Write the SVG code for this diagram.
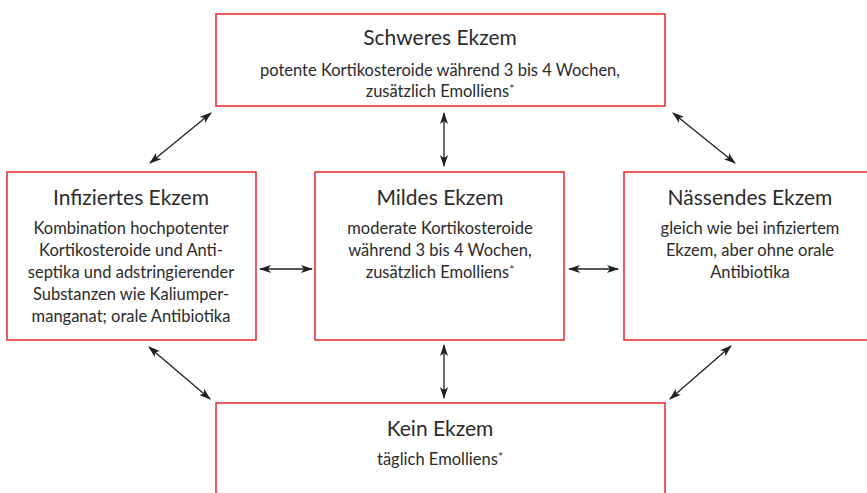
<svg xmlns="http://www.w3.org/2000/svg" width="867" height="493" viewBox="0 0 867 493">
<defs>
<marker id="ah" viewBox="0 0 12 8" refX="11" refY="4" markerWidth="12" markerHeight="8" markerUnits="userSpaceOnUse" orient="auto-start-reverse">
<path d="M0,0 L12,4 L0,8 L3,4 Z" fill="#231f20"/>
</marker>
</defs>
<style>
.box{fill:#fff;stroke:#e8242c;stroke-width:1.5}
.t{font-family:Lato,"Open Sans",sans-serif;font-size:21px;fill:#2b2b2b;text-anchor:middle}
.b{font-family:Lato,"Open Sans",sans-serif;font-size:16.5px;fill:#2b2b2b;text-anchor:middle}
.s{font-size:12px}
.c{stroke:#231f20;stroke-width:1.3;fill:none;marker-start:url(#ah);marker-end:url(#ah)}
</style>
<rect width="867" height="493" fill="#fff"/>
<g id="schwer">
<rect class="box" x="216" y="14" width="449" height="92"/>
<text class="t" x="440" y="45">Schweres Ekzem</text>
<text class="b" x="440" y="76">potente Kortikosteroide während 3 bis 4 Wochen,</text>
<text class="b" x="440" y="97">zusätzlich Emolliens<tspan class="s" dy="-4">*</tspan></text>
</g>
<g id="infiziert">
<rect class="box" x="7" y="172" width="249" height="168"/>
<text class="t" x="131" y="205">Infiziertes Ekzem</text>
<text class="b" x="131" y="234">Kombination hochpotenter</text>
<text class="b" x="131" y="256">Kortikosteroide und Anti-</text>
<text class="b" x="131" y="278">septika und adstringierender</text>
<text class="b" x="131" y="300">Substanzen wie Kaliumper-</text>
<text class="b" x="131" y="322">manganat; orale Antibiotika</text>
</g>
<g id="mild">
<rect class="box" x="315" y="172" width="249" height="168"/>
<text class="t" x="440" y="205">Mildes Ekzem</text>
<text class="b" x="440" y="234">moderate Kortikosteroide</text>
<text class="b" x="440" y="256">während 3 bis 4 Wochen,</text>
<text class="b" x="440" y="278">zusätzlich Emolliens<tspan class="s" dy="-4">*</tspan></text>
</g>
<g id="naessend">
<rect class="box" x="624" y="172" width="252" height="168"/>
<text class="t" x="750" y="205">Nässendes Ekzem</text>
<text class="b" x="750" y="234">gleich wie bei infiziertem</text>
<text class="b" x="750" y="256">Ekzem, aber ohne orale</text>
<text class="b" x="750" y="278">Antibiotika</text>
</g>
<g id="kein">
<rect class="box" x="216" y="403" width="449" height="100"/>
<text class="t" x="440" y="436">Kein Ekzem</text>
<text class="b" x="440" y="465">täglich Emolliens<tspan class="s" dy="-4">*</tspan></text>
</g>
<g id="connectors">
<line class="c" x1="150" y1="163" x2="211" y2="113"/>
<line class="c" x1="444" y1="113" x2="444" y2="166"/>
<line class="c" x1="673" y1="113" x2="735" y2="163"/>
<line class="c" x1="260" y1="269" x2="312" y2="269"/>
<line class="c" x1="569" y1="269" x2="618" y2="269"/>
<line class="c" x1="149" y1="347" x2="210" y2="399"/>
<line class="c" x1="444" y1="345" x2="444" y2="398"/>
<line class="c" x1="731" y1="346" x2="670" y2="399"/>
</g>
</svg>
